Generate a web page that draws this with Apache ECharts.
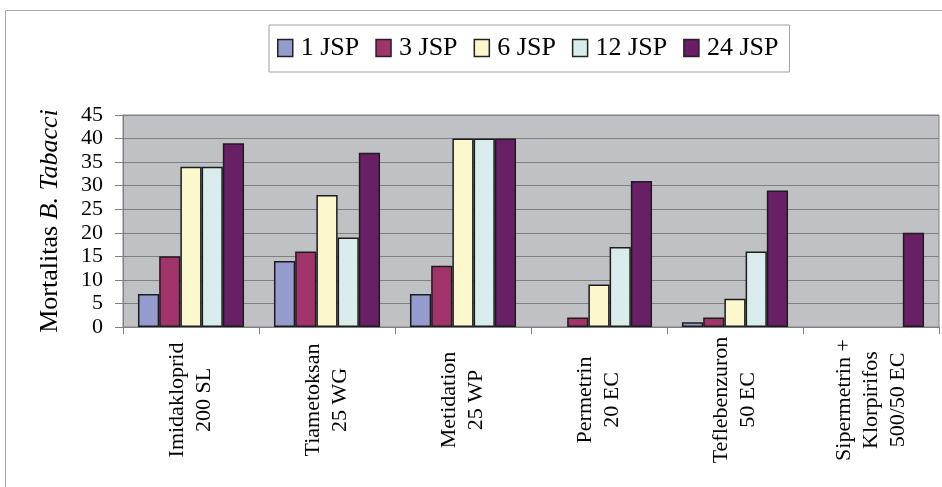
<!DOCTYPE html>
<html>
<head>
<meta charset="utf-8">
<title>Mortalitas B. Tabacci</title>
<script src="https://cdn.jsdelivr.net/npm/echarts@6/dist/echarts.min.js"></script>
<style>
  html, body { margin: 0; padding: 0; background: #ffffff; }
  #chart { width: 942px; height: 487px; }
</style>
</head>
<body>
<div id="chart"></div>
<script>
// Insecticide treatments (category axis)
const categories = [
  'Imidakloprid\n200 SL',
  'Tiametoksan\n25 WG',
  'Metidation\n25 WP',
  'Permetrin\n20 EC',
  'Teflebenzuron\n50 EC',
  'Sipermetrin +\nKlorpirifos\n500/50 EC'
];

// Observation times (hours after application)
const seriesNames = ['1 JSP', '3 JSP', '6 JSP', '12 JSP', '24 JSP'];

// Mortality counts per observation time, one value per treatment
const jsp1  = [7, 14, 7, 0, 1, 0];
const jsp3  = [15, 16, 13, 2, 2, 0];
const jsp6  = [34, 28, 40, 9, 6, 0];
const jsp12 = [34, 19, 40, 17, 16, 0];
const jsp24 = [39, 37, 40, 31, 29, 20];

const yTicks = { min: 0, max: 45, interval: 5 };

const seriesValues = [jsp1, jsp3, jsp6, jsp12, jsp24];
const seriesColors = ['#959ccd', '#a0346a', '#fbf8cd', '#d8ecee', '#681f66'];

const serif = '"Liberation Serif", "Times New Roman", serif';

const chart = echarts.init(document.getElementById('chart'), null, { renderer: 'canvas' });

chart.setOption({
  animation: false,
  backgroundColor: '#ffffff',
  graphic: [{
    type: 'rect',
    silent: true,
    z: -10,
    shape: { x: 5.5, y: 10.5, width: 1000, height: 1000 },
    style: { fill: 'none', stroke: '#a8a8a8', lineWidth: 1 }
  }],
  legend: {
    left: 269,
    top: 25,
    orient: 'horizontal',
    icon: 'rect',
    itemWidth: 15,
    itemHeight: 17,
    itemGap: 16,
    padding: [9, 11, 10, 8],
    borderColor: '#a0a0a0',
    borderWidth: 1,
    backgroundColor: '#ffffff',
    borderRadius: 0,
    selectedMode: false,
    itemStyle: { borderColor: '#222222', borderWidth: 1.5 },
    textStyle: { fontFamily: serif, fontSize: 26, color: '#000000', lineHeight: 28, padding: [0, 0, 0, 3] },
    data: seriesNames
  },
  grid: {
    left: 123,
    top: 115,
    right: 3,
    bottom: 160,
    show: true,
    backgroundColor: '#c0c1c5',
    borderColor: '#808080',
    borderWidth: 1,
    containLabel: false,
    outerBoundsMode: 'none'
  },
  xAxis: {
    type: 'category',
    data: categories,
    axisLine: { show: true, lineStyle: { color: '#808080', width: 1 } },
    axisTick: { show: true, length: 7, interval: 0, lineStyle: { color: '#808080' } },
    axisLabel: {
      interval: 0,
      rotate: 90,
      align: 'center',
      verticalAlign: 'middle',
      margin: 73,
      fontFamily: serif,
      fontSize: 22,
      lineHeight: 27,
      color: '#000000'
    },
    splitLine: { show: false }
  },
  yAxis: {
    type: 'value',
    min: yTicks.min,
    max: yTicks.max,
    interval: yTicks.interval,
    name: '{n|Mortalitas }{i|B. Tabacci}',
    nameLocation: 'middle',
    nameRotate: 90,
    nameGap: 60,
    nameTextStyle: {
      rich: {
        n: { fontFamily: serif, fontSize: 26, color: '#000000' },
        i: { fontFamily: serif, fontSize: 26, fontStyle: 'italic', color: '#000000' }
      }
    },
    axisLine: { show: true, lineStyle: { color: '#808080', width: 1 } },
    axisTick: { show: true, length: 8, inside: false, lineStyle: { color: '#808080' } },
    axisLabel: {
      margin: 20,
      fontFamily: serif,
      fontSize: 22,
      color: '#000000'
    },
    splitLine: { show: true, lineStyle: { color: '#808080', width: 1 } }
  },
  series: seriesNames.map((name, i) => ({
    name: name,
    type: 'bar',
    // a zero count leaves its slot empty
    data: seriesValues[i].map(v => (v === 0 ? '-' : v)),
    barGap: '0%',
    barCategoryGap: '22%',
    itemStyle: {
      color: seriesColors[i],
      borderColor: '#1c1c1c',
      borderWidth: 1.5
    },
    emphasis: { disabled: true }
  }))
});
</script>
</body>
</html>
